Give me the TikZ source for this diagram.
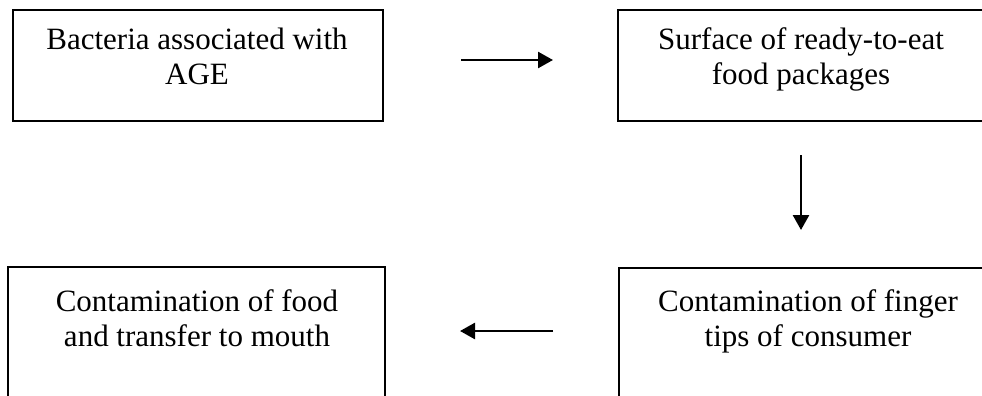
\documentclass[tikz,border=0pt]{standalone}
\usepackage{fontspec}
\setmainfont{Liberation Serif}
\usetikzlibrary{arrows.meta}
\begin{document}
\begin{tikzpicture}[x=1pt,y=-1pt,
  box/.style={draw=black, line width=1.9pt, rectangle, anchor=north west, inner sep=0pt},
  txt/.style={align=center, inner sep=0pt, anchor=north, font=\fontsize{31}{35}\selectfont},
  arr/.style={line width=2.6pt, -{Triangle[length=15pt,width=16pt]}}]
\useasboundingbox (0,0) rectangle (982,396);
\clip (0,0) rectangle (982,396);
% boxes
\node[box, minimum width=370pt, minimum height=111pt] (a) at (12,9) {};
\node[box, minimum width=400pt, minimum height=111pt] (b) at (617,9) {};
\node[box, minimum width=377pt, minimum height=150pt] (c) at (7,266) {};
\node[box, minimum width=400pt, minimum height=150pt] (d) at (618,267) {};
% texts
\node[txt] (ta) at (197,24.5) {\strut Bacteria associated with\\\strut AGE};
\node[txt] (tb) at (801,24.5) {\strut Surface of ready-to-eat\\\strut food packages};
\node[txt] (tc) at (197,286.5) {\strut Contamination of food\\\strut and transfer to mouth};
\node[txt] (td) at (808,286.5) {\strut Contamination of finger\\\strut tips of consumer};
% connector ends
\coordinate (ab1) at (461,60);
\coordinate (ab2) at (553,60);
\coordinate (bd1) at (801,155);
\coordinate (bd2) at (801,230);
\coordinate (dc1) at (553,331);
\coordinate (dc2) at (460,331);
\draw[arr] (ab1) -- (ab2);
\draw[arr] (bd1) -- (bd2);
\draw[arr] (dc1) -- (dc2);
\end{tikzpicture}
\end{document}
